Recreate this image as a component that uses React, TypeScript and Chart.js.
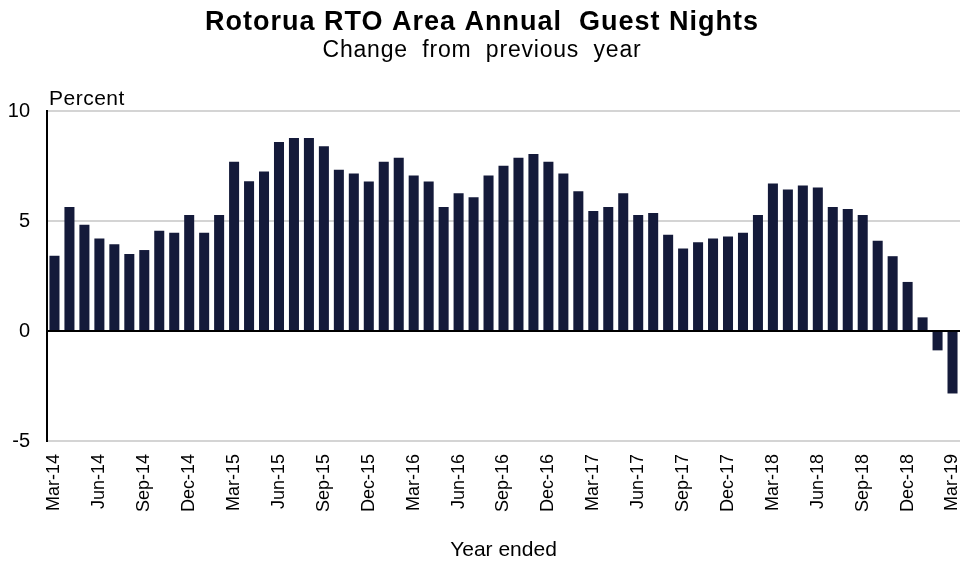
import React, { useEffect, useRef } from "react";
import { Chart, registerables } from "chart.js";

Chart.register(...registerables);

const TITLE = "Rotorua RTO Area Annual  Guest Nights";
const SUBTITLE = "Change  from  previous  year";
const Y_LABEL = "Percent";
const X_TITLE = "Year ended";

const months: string[] = [
  "Mar-14", "Apr-14", "May-14", "Jun-14", "Jul-14", "Aug-14", "Sep-14", "Oct-14", "Nov-14", "Dec-14",
  "Jan-15", "Feb-15", "Mar-15", "Apr-15", "May-15", "Jun-15", "Jul-15", "Aug-15", "Sep-15", "Oct-15",
  "Nov-15", "Dec-15", "Jan-16", "Feb-16", "Mar-16", "Apr-16", "May-16", "Jun-16", "Jul-16", "Aug-16",
  "Sep-16", "Oct-16", "Nov-16", "Dec-16", "Jan-17", "Feb-17", "Mar-17", "Apr-17", "May-17", "Jun-17",
  "Jul-17", "Aug-17", "Sep-17", "Oct-17", "Nov-17", "Dec-17", "Jan-18", "Feb-18", "Mar-18", "Apr-18",
  "May-18", "Jun-18", "Jul-18", "Aug-18", "Sep-18", "Oct-18", "Nov-18", "Dec-18", "Jan-19", "Feb-19",
  "Mar-19",
];

const guestNightsChange: number[] = [
  3.42, 5.64, 4.83, 4.21, 3.94, 3.5, 3.68, 4.56, 4.47, 5.27, 4.47, 5.27,
  7.69, 6.81, 7.25, 8.59, 8.77, 8.77, 8.4, 7.33, 7.16, 6.79, 7.69, 7.87,
  7.07, 6.79, 5.64, 6.26, 6.08, 7.07, 7.51, 7.87, 8.05, 7.69, 7.16, 6.35,
  5.46, 5.64, 6.26, 5.27, 5.36, 4.38, 3.75, 4.03, 4.21, 4.3, 4.47, 5.27,
  6.7, 6.43, 6.61, 6.52, 5.64, 5.55, 5.27, 4.1, 3.4, 2.23, 0.62, -0.88,
  -2.84,
];

const yMin = -5;
const yMax = 10;
const yStep = 5;

const FONT = "'Liberation Sans', Arial, sans-serif";

const textPlugin = {
  id: "headerTexts",
  afterDraw(chart: any) {
    const ctx = chart.ctx as CanvasRenderingContext2D;
    const area = chart.chartArea;
    ctx.save();
    ctx.fillStyle = "#000";
    ctx.textBaseline = "alphabetic";
    ctx.textAlign = "center";
    (ctx as any).letterSpacing = "1px";
    ctx.font = `bold 27px ${FONT}`;
    ctx.fillText(TITLE, chart.width / 2, 30);
    (ctx as any).letterSpacing = "0.8px";
    ctx.font = `23px ${FONT}`;
    ctx.fillText(SUBTITLE, chart.width / 2, 57);
    (ctx as any).letterSpacing = "0.5px";
    ctx.textAlign = "left";
    ctx.font = `21px ${FONT}`;
    ctx.fillText(Y_LABEL, area.left + 2, area.top - 6);
    ctx.restore();
  },
};

export default function App() {
  const ref = useRef<HTMLCanvasElement | null>(null);

  useEffect(() => {
    if (!ref.current) return;
    const chart = new Chart(ref.current, {
      type: "bar",
      data: {
        labels: months,
        datasets: [
          {
            data: guestNightsChange,
            backgroundColor: "#141a3a",
            borderWidth: 0,
            categoryPercentage: 1,
            barPercentage: 0.67,
          },
        ],
      },
      options: {
        responsive: false,
        animation: false,
        layout: { padding: { top: 111, right: 4, left: 0, bottom: 0 } },
        plugins: {
          legend: { display: false },
          tooltip: { enabled: false },
          title: { display: false },
        },
        scales: {
          x: {
            grid: { display: false, drawTicks: false },
            border: { display: false },
            ticks: {
              autoSkip: false,
              maxRotation: 90,
              minRotation: 90,
              padding: 13,
              color: "#000",
              font: { family: FONT, size: 18 },
              callback: (_v: any, i: number) => (i % 3 === 0 ? months[i] : ""),
            },
            title: {
              display: true,
              text: X_TITLE,
              color: "#000",
              font: { family: FONT, size: 21 },
              padding: { top: 0, bottom: 0 },
            },
            afterFit: (scale: any) => {
              scale.height = 122;
              scale.paddingLeft = 0;
              scale.paddingRight = 0;
            },
          },
          y: {
            min: yMin,
            max: yMax,
            ticks: {
              stepSize: yStep,
              padding: 17,
              color: "#000",
              font: { family: FONT, size: 20 },
            },
            grid: {
              drawTicks: false,
              color: (c: any) => (c.tick && c.tick.value === 0 ? "#000" : "#d4d4d4"),
              lineWidth: 2,
            },
            border: { display: true, color: "#000", width: 2 },
            afterFit: (scale: any) => {
              scale.width = 47;
              scale.paddingTop = 0;
              scale.paddingBottom = 0;
            },
          },
        },
      },
      plugins: [textPlugin],
    });
    return () => chart.destroy();
  }, []);

  return (
    <div style={{ position: "absolute", left: 0, top: 0, width: 964, height: 563, background: "#fff" }}>
      <canvas ref={ref} width={964} height={563} style={{ display: "block" }} />
    </div>
  );
}
